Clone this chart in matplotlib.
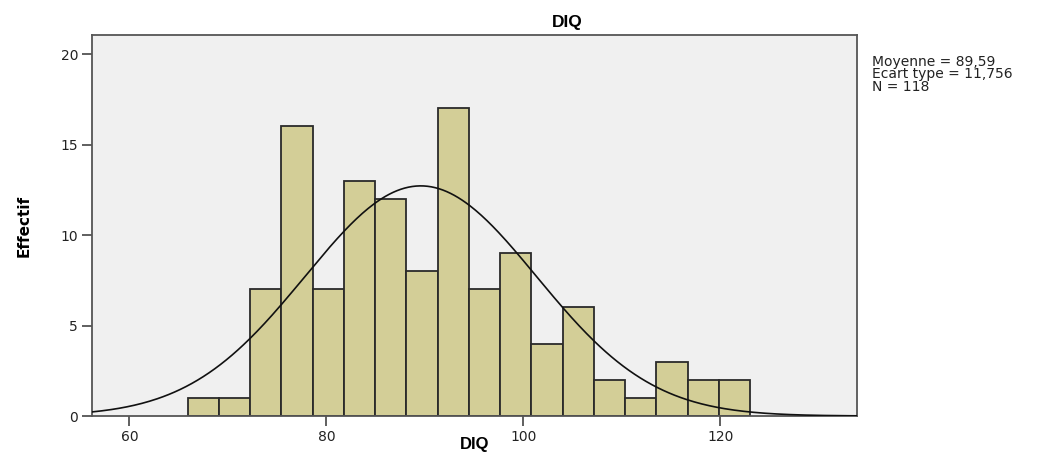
import numpy as np
import matplotlib
matplotlib.use('Agg')
import matplotlib.pyplot as plt

# histogram of DIQ (SPSS style)
bin_start = 65.9
bin_width = 3.175
counts = [1, 1, 7, 16, 7, 13, 12, 8, 17, 7, 9, 4, 6, 2, 1, 3, 2, 2]
mean = 89.59
std = 11.756
n = 118
x_ticks = [60, 80, 100, 120]
y_ticks = [0, 5, 10, 15, 20]

edges = bin_start + bin_width * np.arange(len(counts) + 1)

fig = plt.figure(figsize=(10.46, 4.54), dpi=100)
ax = fig.add_axes([92 / 1046, 1 - 416 / 454, (857 - 92) / 1046, (416 - 35) / 454])
ax.set_facecolor('#f0f0f0')

ax.bar(edges[:-1], counts, width=bin_width, align='edge',
       color='#d3ce97', edgecolor='#2a2a2a', linewidth=1.3, zorder=2)

xs = np.linspace(56.2, 133.9, 400)
pdf = n * bin_width / (std * np.sqrt(2 * np.pi)) * np.exp(-0.5 * ((xs - mean) / std) ** 2)
ax.plot(xs, pdf, color='#111111', linewidth=1.2, zorder=3)

ax.set_xlim(56.2, 133.9)
ax.set_ylim(0, 21.05)
ax.set_xticks(x_ticks)
ax.set_yticks(y_ticks)
ax.tick_params(direction='out', length=7, width=1.2, color='#444444',
               labelsize=10, labelcolor='#222222', pad=3)
for s in ax.spines.values():
    s.set_color('#555555')
    s.set_linewidth(1.3)

fig.text(567 / 1046, 1 - 22 / 454, 'DIQ', ha='center', va='center',
         fontsize=12.5, fontweight='bold', family=['Liberation Sans', 'DejaVu Sans'])
fig.text(475 / 1046, 1 - 452 / 454, 'DIQ', ha='center', va='bottom',
         fontsize=12, fontweight='bold', family=['Liberation Sans', 'DejaVu Sans'])
fig.text(24 / 1046, 1 - 226 / 454, 'Effectif', ha='center', va='center', rotation=90,
         fontsize=11, fontweight='bold', family=['Liberation Sans Narrow', 'DejaVu Sans'])

stats = f'Moyenne = {mean:.2f}\nEcart type = {std:.3f}\nN = {n}'.replace('.', ',')
fig.text(872 / 1046, 1 - 55 / 454, stats, ha='left', va='top',
         fontsize=10, linespacing=0.85, color='#222222')

fig.savefig('out.png', dpi=100)
